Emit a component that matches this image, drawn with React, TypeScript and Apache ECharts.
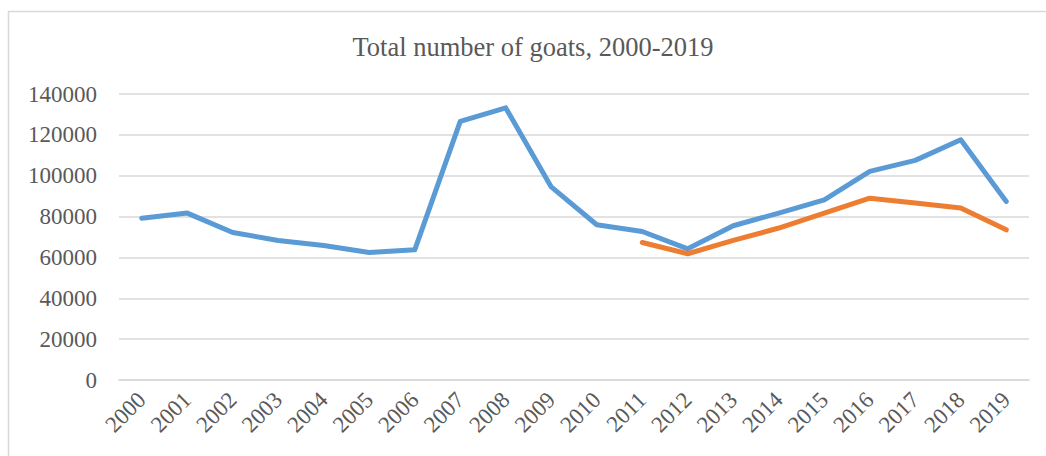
import React, { useEffect, useRef } from "react";
import * as echarts from "echarts";

const years = ["2000","2001","2002","2003","2004","2005","2006","2007","2008","2009","2010","2011","2012","2013","2014","2015","2016","2017","2018","2019"];
const totalGoats = [79200, 81700, 72200, 68300, 65800, 62400, 63700, 126600, 133200, 94500, 76000, 72700, 64200, 75500, 81700, 88200, 102100, 107500, 117600, 87400];
const secondSeries = [null, null, null, null, null, null, null, null, null, null, null, 67300, 61800, 68300, 74400, 81700, 89000, 86600, 84200, 73500];
const chartTitle = "Total number of goats, 2000-2019";

const FONT = '"Liberation Serif", "Times New Roman", serif';
const TEXT = "#595959";

export default function App() {
  const ref = useRef<HTMLDivElement>(null);
  useEffect(() => {
    if (!ref.current) return;
    const chart = echarts.init(ref.current, undefined, { renderer: "svg" });
    chart.setOption({
      animation: false,
      backgroundColor: "#ffffff",
      graphic: [
        {
          type: "rect",
          shape: { x: 8.5, y: 11.5, width: 1100, height: 500 },
          style: { fill: "none", stroke: "#d9d9d9", lineWidth: 1.5 },
          silent: true,
        },
        {
          type: "text",
          x: 533,
          y: 47,
          style: {
            text: chartTitle,
            fill: TEXT,
            font: `26.5px ${FONT}`,
            textAlign: "center",
            textVerticalAlign: "middle",
          },
        },
      ],
      grid: { left: 119, right: 17, top: 94, bottom: 76, containLabel: false },
      xAxis: {
        type: "category",
        data: years,
        boundaryGap: true,
        axisLine: { show: true, lineStyle: { color: "#d9d9d9", width: 1.5 } },
        axisTick: { show: false },
        axisLabel: {
          rotate: 45,
          interval: 0,
          margin: 16,
          color: TEXT,
          fontFamily: FONT,
          fontSize: 23,
        },
      },
      yAxis: {
        type: "value",
        min: 0,
        max: 140000,
        interval: 20000,
        axisLine: { show: false },
        axisTick: { show: false },
        splitLine: { show: true, lineStyle: { color: "#d9d9d9", width: 1.5 } },
        axisLabel: {
          margin: 22,
          color: TEXT,
          fontFamily: FONT,
          fontSize: 23,
          formatter: (v: number) => String(v),
        },
      },
      series: [
        {
          type: "line",
          data: totalGoats,
          symbol: "none",
          lineStyle: { color: "#5b9bd5", width: 5, cap: "round", join: "round" },
          itemStyle: { color: "#5b9bd5" },
        },
        {
          type: "line",
          data: secondSeries,
          symbol: "none",
          connectNulls: false,
          lineStyle: { color: "#ed7d31", width: 5, cap: "round", join: "round" },
          itemStyle: { color: "#ed7d31" },
        },
      ],
    });
    return () => chart.dispose();
  }, []);
  return (
    <div
      ref={ref}
      style={{ position: "fixed", left: 0, top: 0, width: 1046, height: 456 }}
    />
  );
}
